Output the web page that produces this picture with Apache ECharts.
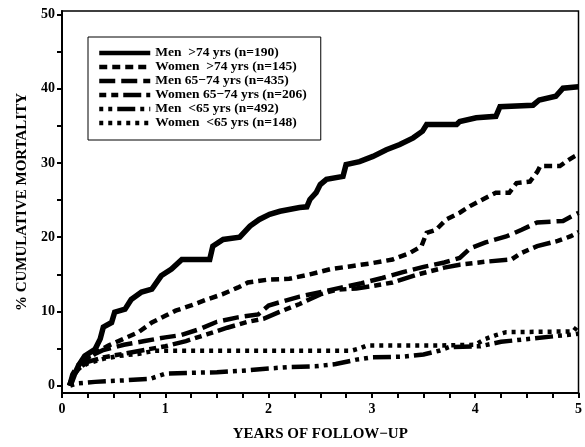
<!DOCTYPE html>
<html>
<head>
<meta charset="utf-8">
<script src="https://cdn.jsdelivr.net/npm/echarts@6/dist/echarts.min.js"></script>
<style>
  html, body { margin: 0; padding: 0; background: #fff; }
  #chart { width: 585px; height: 447px; }
</style>
</head>
<body>
<div id="chart"></div>
<script>
// tick positions and labels
const xTicks = [0, 0.25, 0.5, 0.75, 1, 1.25, 1.5, 1.75, 2, 2.25, 2.5, 2.75, 3, 3.25, 3.5, 3.75, 4, 4.25, 4.5, 4.75, 5];
const xLabels = [0, 1, 2, 3, 4, 5];
const yTicks = [0, 5, 10, 15, 20, 25, 30, 35, 40, 45, 50];
const yLabels = [0, 10, 20, 30, 40, 50];

const seriesNames = [
  'Men  >74 yrs (n=190)',
  'Women  >74 yrs (n=145)',
  'Men 65−74 yrs (n=435)',
  'Women 65−74 yrs (n=206)',
  'Men  <65 yrs (n=492)',
  'Women  <65 yrs (n=148)'
];

// [years, % cumulative mortality]
const menOver74 = [[0.08,0],[0.12,1.5],[0.16,2.7],[0.22,4.0],[0.32,4.9],[0.37,6.3],[0.4,7.9],[0.48,8.5],[0.51,9.9],[0.61,10.3],[0.67,11.6],[0.77,12.6],[0.87,13.0],[0.96,14.8],[1.06,15.7],[1.16,17.0],[1.43,17.0],[1.46,18.8],[1.56,19.7],[1.72,20.0],[1.82,21.5],[1.91,22.4],[2.01,23.1],[2.11,23.5],[2.3,24.0],[2.37,24.1],[2.4,25.1],[2.46,26.0],[2.5,27.1],[2.56,27.8],[2.72,28.2],[2.75,29.8],[2.88,30.2],[3.01,30.9],[3.14,31.8],[3.27,32.5],[3.4,33.4],[3.49,34.3],[3.53,35.2],[3.82,35.2],[3.85,35.6],[4.01,36.1],[4.2,36.3],[4.24,37.6],[4.56,37.8],[4.62,38.5],[4.78,39.0],[4.85,40.1],[5.0,40.3]];
const womenOver74 = [[0.08,0],[0.12,1.5],[0.18,2.6],[0.25,3.5],[0.35,4.6],[0.45,5.4],[0.58,6.2],[0.74,7.2],[0.87,8.5],[1.0,9.4],[1.1,10.1],[1.25,10.8],[1.4,11.6],[1.55,12.3],[1.7,13.2],[1.8,13.9],[2.0,14.3],[2.2,14.4],[2.4,15.0],[2.6,15.7],[2.8,16.1],[3.0,16.5],[3.2,17.0],[3.37,17.9],[3.48,18.8],[3.53,20.6],[3.62,21.0],[3.72,22.4],[3.85,23.3],[3.95,24.2],[4.1,25.3],[4.2,26.0],[4.33,26.0],[4.4,27.3],[4.53,27.5],[4.6,28.8],[4.63,29.6],[4.82,29.6],[4.88,30.2],[4.96,30.9],[5.0,31.2]];
const men65to74 = [[0.07,0],[0.1,1.5],[0.15,2.7],[0.25,3.8],[0.4,4.8],[0.6,5.5],[0.8,6.0],[1.0,6.5],[1.15,6.8],[1.33,7.6],[1.5,8.6],[1.7,9.2],[1.9,9.6],[2.0,10.8],[2.15,11.4],[2.3,12.0],[2.5,12.6],[2.7,13.2],[2.9,13.8],[3.1,14.5],[3.3,15.3],[3.5,16.0],[3.7,16.6],[3.85,17.2],[3.95,18.5],[4.1,19.3],[4.3,20.1],[4.45,21.0],[4.6,22.0],[4.85,22.2],[4.93,22.8],[5.0,23.3]];
const women65to74 = [[0.07,0],[0.1,1.2],[0.15,2.2],[0.25,3.2],[0.4,3.8],[0.6,4.3],[0.8,4.8],[1.0,5.3],[1.2,6.0],[1.4,6.9],[1.6,7.8],[1.8,8.6],[1.95,9.0],[2.1,9.9],[2.3,11.0],[2.5,12.3],[2.65,12.9],[2.85,13.1],[3.0,13.4],[3.2,13.9],[3.45,15.0],[3.7,15.9],[3.85,16.3],[4.1,16.7],[4.35,17.0],[4.45,17.9],[4.6,18.8],[4.8,19.5],[4.92,20.1],[5.0,20.7]];
const menUnder65 = [[0.08,0],[0.15,0.3],[0.32,0.5],[0.6,0.7],[0.85,0.9],[1.0,1.6],[1.2,1.7],[1.5,1.8],[1.75,2.0],[2.0,2.3],[2.2,2.5],[2.45,2.6],[2.65,2.9],[2.85,3.5],[3.0,3.8],[3.3,3.9],[3.5,4.2],[3.65,4.7],[3.75,5.2],[4.05,5.3],[4.25,5.9],[4.45,6.2],[4.8,6.7],[4.95,6.9],[5.0,7.0]];
const womenUnder65 = [[0.07,0],[0.1,1.2],[0.15,2.2],[0.25,3.0],[0.4,3.6],[0.55,4.0],[0.75,4.3],[0.9,4.7],[2.8,4.7],[2.88,5.0],[2.95,5.4],[3.6,5.4],[4.0,5.5],[4.1,6.3],[4.2,6.8],[4.3,7.2],[4.95,7.3],[5.0,8.2]];

const allData = [menOver74, womenOver74, men65to74, women65to74, menUnder65, womenUnder65];
// dash patterns for each curve
const dashes = ['solid', [8, 5], [16, 6], [7, 5, 7, 5, 18, 5], [4, 5, 4, 5, 18, 5], [4, 5]];
const widths = [5.5, 4.5, 4.5, 4.5, 4.5, 4.5];

const serif = '"Liberation Serif", "DejaVu Serif", serif';

const chart = echarts.init(document.getElementById('chart'), null, { renderer: 'canvas' });

chart.setOption({
  animation: false,
  backgroundColor: '#fff',
  grid: {
    left: 62, right: 6, top: 11, bottom: 53,
    show: true, borderColor: '#000', borderWidth: 1.5, backgroundColor: 'transparent'
  },
  legend: {
    orient: 'vertical',
    left: 88, top: 37,
    padding: [9, 14, 10, 9],
    itemWidth: 51, itemHeight: 10, itemGap: 0,
    borderColor: '#000', borderWidth: 1,
    itemStyle: { opacity: 0 },
    lineStyle: { width: 4.5 },
    textStyle: { fontFamily: serif, fontWeight: 'bold', fontSize: 13.5, color: '#000' },
    data: seriesNames
  },
  xAxis: {
    type: 'value', min: 0, max: 5,
    name: 'YEARS OF FOLLOW−UP',
    nameLocation: 'middle', nameGap: 34,
    nameTextStyle: { fontFamily: serif, fontWeight: 'bold', fontSize: 15, color: '#000' },
    axisLine: { onZero: false, lineStyle: { color: '#000', width: 2 } },
    axisTick: { customValues: xTicks, length: 5, lineStyle: { color: '#000', width: 2 } },
    axisLabel: { customValues: xLabels, margin: 9, fontFamily: serif, fontWeight: 'bold', fontSize: 14, color: '#000' },
    splitLine: { show: false }
  },
  yAxis: {
    type: 'value', min: -1, max: 50.5,
    name: '% CUMULATIVE MORTALITY',
    nameLocation: 'middle', nameGap: 32, nameRotate: 90,
    nameTextStyle: { fontFamily: serif, fontWeight: 'bold', fontSize: 15, color: '#000' },
    axisLine: { onZero: false, lineStyle: { color: '#000', width: 2 } },
    axisTick: { customValues: yTicks, length: 5, lineStyle: { color: '#000', width: 2 } },
    axisLabel: { customValues: yLabels, margin: 7, fontFamily: serif, fontWeight: 'bold', fontSize: 14, color: '#000' },
    splitLine: { show: false }
  },
  series: allData.map((d, i) => ({
    name: seriesNames[i],
    type: 'line',
    data: d,
    symbol: 'none',
    lineStyle: { color: '#000', width: widths[i], type: dashes[i], cap: 'butt', join: 'miter' },
    itemStyle: { color: '#000' }
  }))
});
</script>
</body>
</html>
